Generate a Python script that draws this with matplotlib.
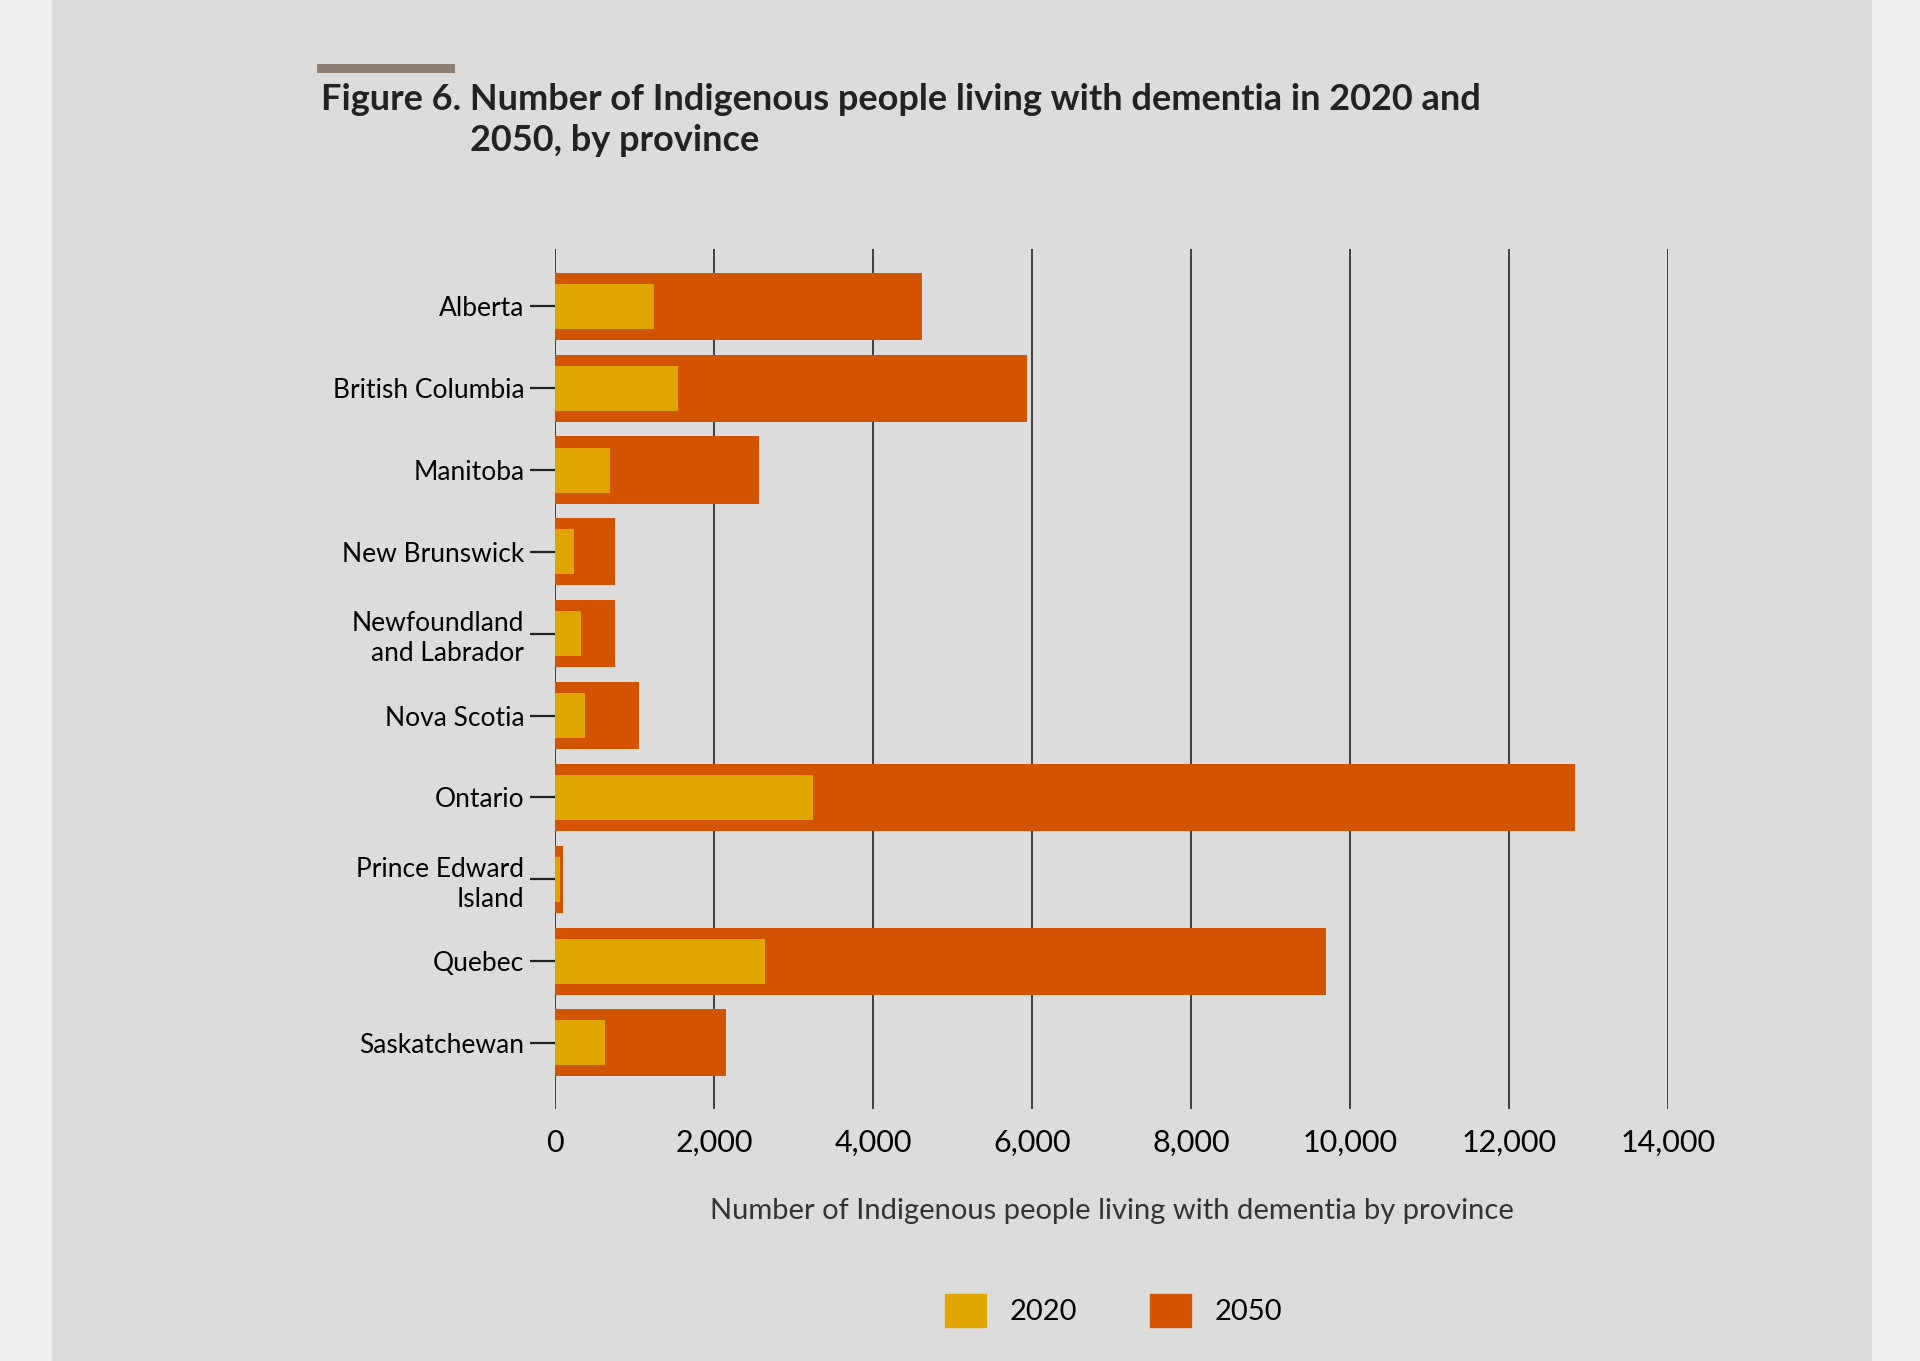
import matplotlib.pyplot as plt
import matplotlib.patches as mpatches

provinces = ["Alberta", "British Columbia", "Manitoba", "New Brunswick",
             "Newfoundland\nand Labrador", "Nova Scotia", "Ontario",
             "Prince Edward\nIsland", "Quebec", "Saskatchewan"]
v2020 = [1240, 1550, 690, 240, 330, 380, 3250, 70, 2640, 630]
v2050 = [4610, 5930, 2570, 750, 750, 1060, 12820, 100, 9700, 2150]
xticks = [0, 2000, 4000, 6000, 8000, 10000, 12000, 14000]

c2020 = "#e0a500"
c2050 = "#d35400"

plt.rcParams["font.family"] = ["Lato", "DejaVu Sans"]

fig = plt.figure(figsize=(19.2, 13.61), dpi=100)
fig.patch.set_facecolor("#efefef")
fig.add_artist(mpatches.Rectangle((0.027, 0), 0.948, 1, transform=fig.transFigure,
                                  facecolor="#dcdcdc", edgecolor="none", zorder=0))
fig.add_artist(mpatches.Rectangle((0.165, 0.946), 0.072, 0.007, transform=fig.transFigure,
                                  facecolor="#8a7f72", edgecolor="none"))

fig.text(0.167, 0.927, "Figure 6. Number of Indigenous people living with dementia in 2020 and",
         fontsize=26, fontweight="bold", color="#222222", va="center")
fig.text(0.245, 0.897, "2050, by province",
         fontsize=26, fontweight="bold", color="#222222", va="center")

ax = fig.add_axes([0.289, 0.185, 0.58, 0.632])
ax.set_facecolor("none")
y = list(range(len(provinces)))
ax.barh(y, v2050, height=0.82, color=c2050, zorder=2)
ax.barh(y, v2020, height=0.55, color=c2020, zorder=3)
ax.set_ylim(len(provinces) - 1 + 0.81, -0.70)
ax.set_xlim(0, 14000)
ax.set_xticks(xticks)
ax.set_xticklabels([f"{t:,}" for t in xticks], fontsize=22)
ax.set_yticks(y)
ax.set_yticklabels(provinces, fontsize=19, linespacing=1.25)
ax.tick_params(axis="y", length=18, width=1.6, pad=4, color="#222222")
ax.tick_params(axis="x", length=0, pad=14)
for t in xticks:
    ax.axvline(t, color="#333333", lw=1.3, zorder=1)
for s in ax.spines.values():
    s.set_visible(False)
ax.set_xlabel("Number of Indigenous people living with dementia by province",
              fontsize=21, color="#333333", labelpad=30)

handles = [mpatches.Patch(color=c2020, label="2020"), mpatches.Patch(color=c2050, label="2050")]
fig.legend(handles=handles, loc="center", bbox_to_anchor=(0.58, 0.037), ncol=2,
           frameon=False, fontsize=21, handlelength=1.4, handleheight=1.4,
           columnspacing=2.5, handletextpad=0.8)

fig.savefig("out.png", dpi=100)
